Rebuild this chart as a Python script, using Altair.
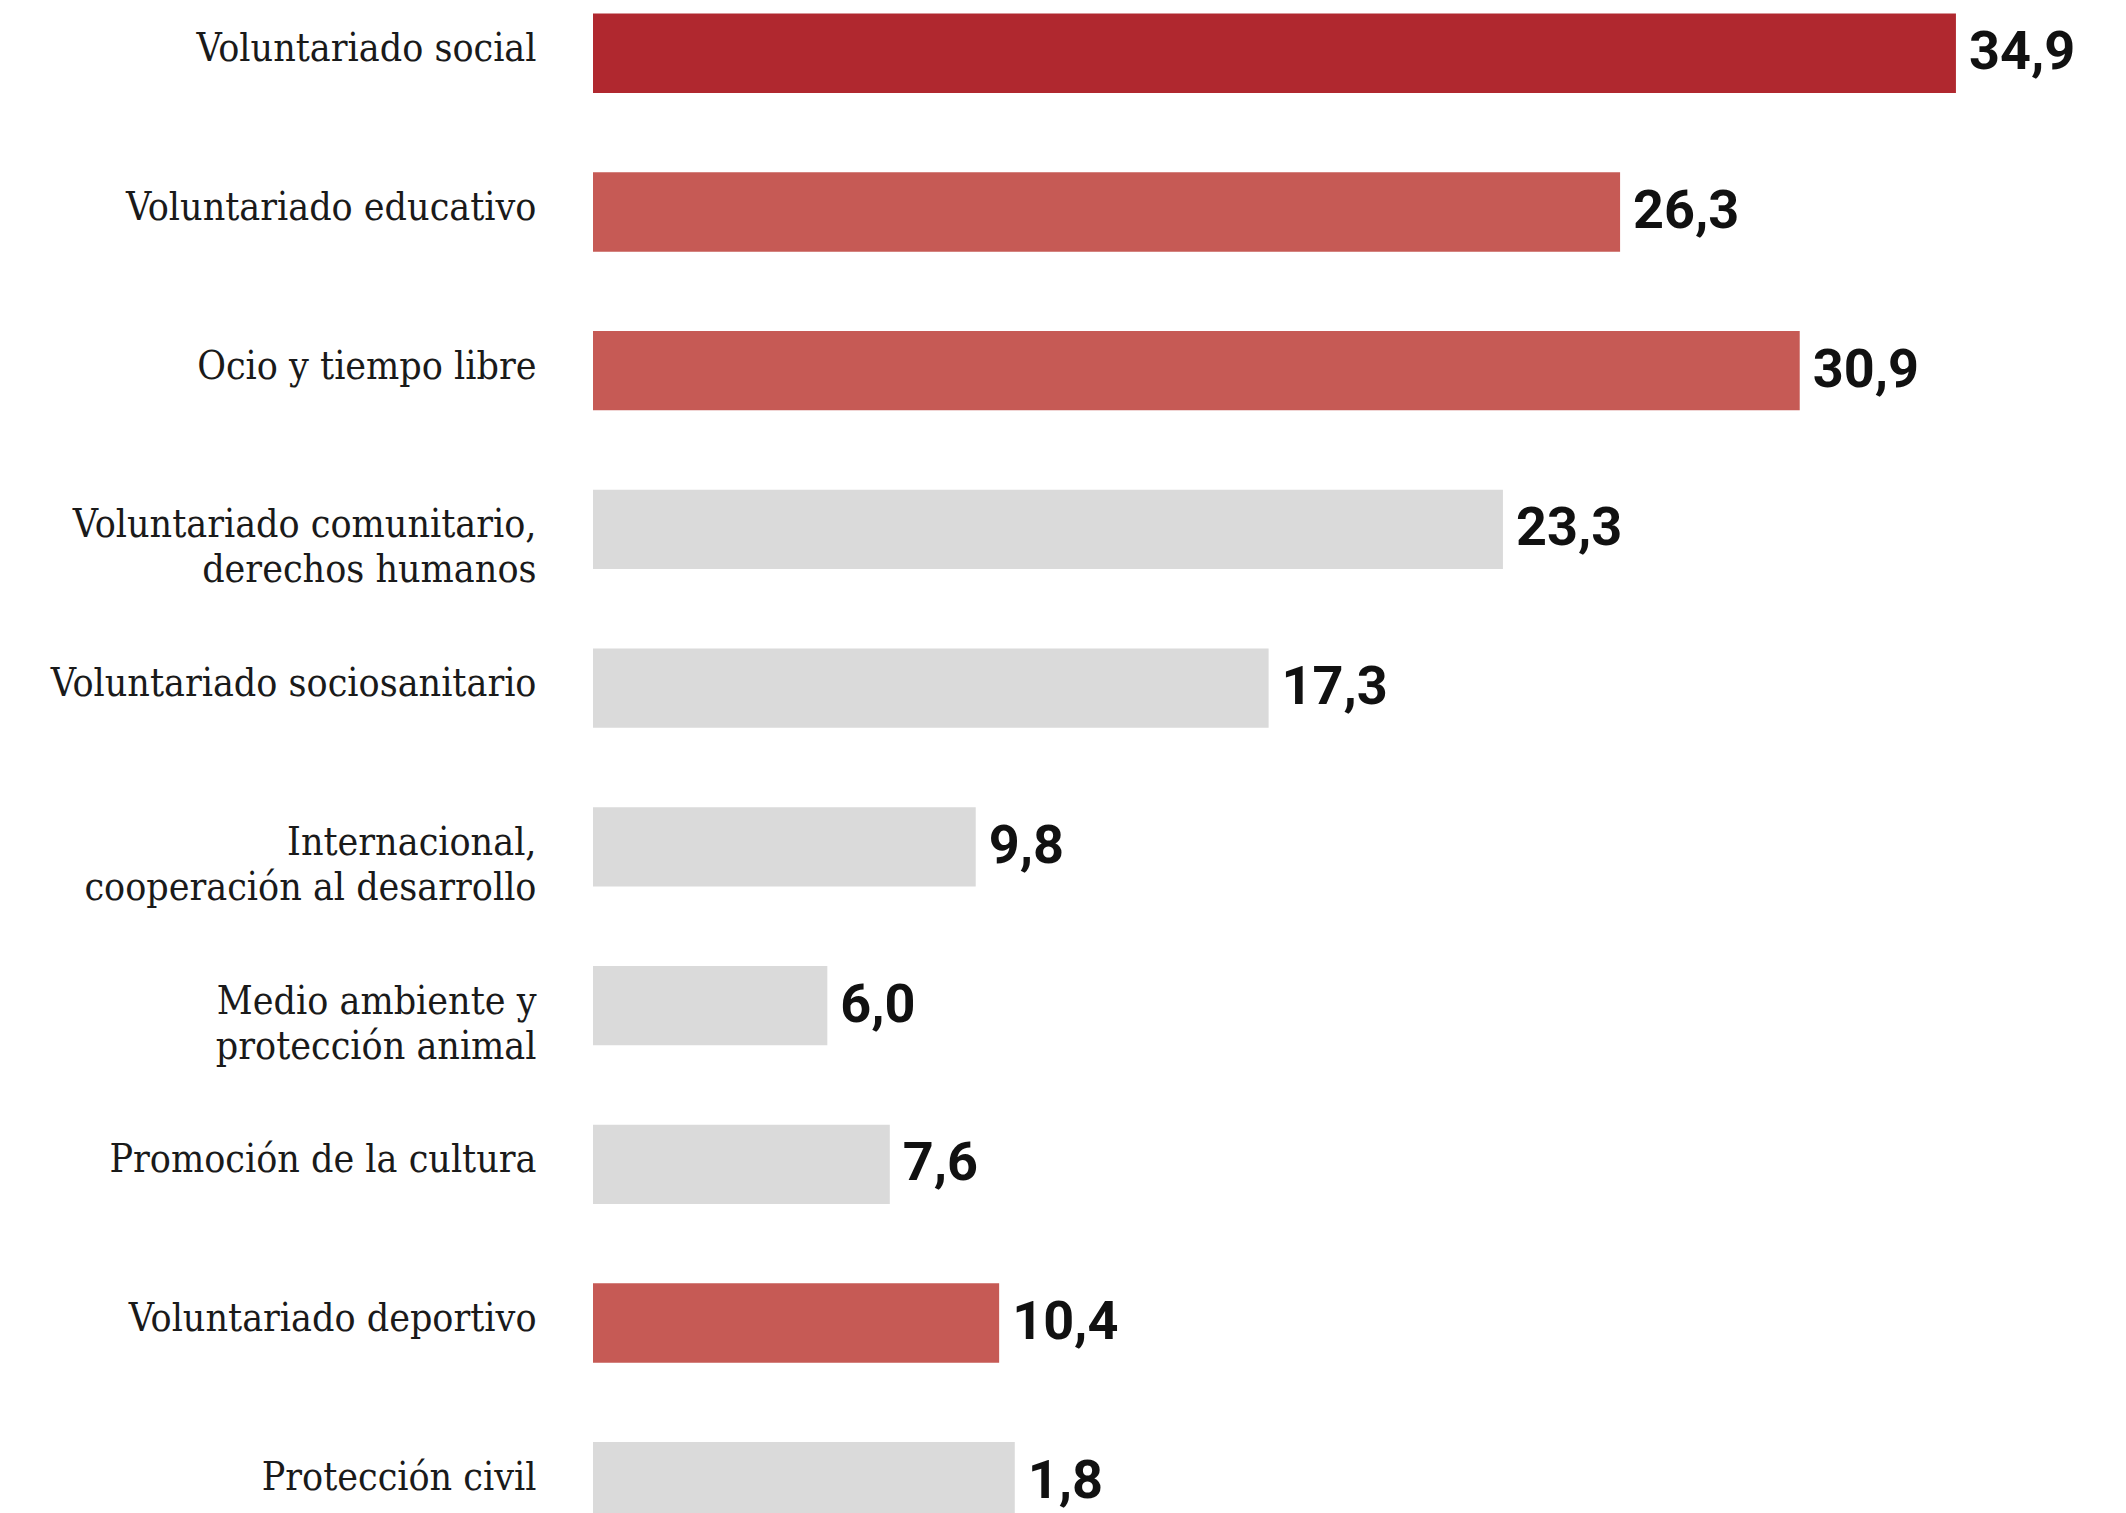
import altair as alt
import pandas as pd

categories = [
    "Voluntariado social",
    "Voluntariado educativo",
    "Ocio y tiempo libre",
    "Voluntariado comunitario,|derechos humanos",
    "Voluntariado sociosanitario",
    "Internacional,|cooperación al desarrollo",
    "Medio ambiente y|protección animal",
    "Promoción de la cultura",
    "Voluntariado deportivo",
    "Protección civil",
]
# bar lengths as drawn in the picture
bar_values = [34.9, 26.3, 30.9, 23.3, 17.3, 9.8, 6.0, 7.6, 10.4, 10.8]
# printed value labels
value_labels = ["34,9", "26,3", "30,9", "23,3", "17,3", "9,8", "6,0", "7,6", "10,4", "1,8"]
groups = ["top", "high", "high", "other", "other", "other", "other", "other", "high", "other"]

df = pd.DataFrame({
    "cat": categories,
    "value": bar_values,
    "label": value_labels,
    "group": groups,
})

y_enc = alt.Y(
    "cat:N",
    sort=None,
    scale=alt.Scale(paddingInner=0.5, paddingOuter=0.035),
    axis=alt.Axis(
        title=None,
        domain=False,
        ticks=False,
        grid=False,
        labelPadding=57,
        labelFontSize=39,
        labelFont="DejaVu Serif Condensed, DejaVu Serif, serif",
        labelColor="#1a1a1a",
        labelLineHeight=45,
        labelOffset=-4,
        labelExpr="split(datum.value, '|')",
        labelLimit=800,
    ),
)

x_enc = alt.X(
    "value:Q",
    scale=alt.Scale(domain=[0, 38], nice=False),
    axis=None,
)

bars = alt.Chart(df).mark_bar().encode(
    x=x_enc,
    y=y_enc,
    color=alt.Color(
        "group:N",
        scale=alt.Scale(domain=["top", "high", "other"], range=["#B0282F", "#C65A55", "#DADADA"]),
        legend=None,
    ),
)

texts = alt.Chart(df).mark_text(
    align="left",
    baseline="middle",
    dx=13,
    font="Roboto",
    fontSize=54,
    fontWeight="bold",
    color="#111111",
).encode(
    x=x_enc,
    y=alt.Y("cat:N", sort=None),
    text="label:N",
)

chart = (
    alt.layer(bars, texts)
    .properties(
        width=1484,
        height=1519,
        background="white",
        autosize=alt.AutoSizeParams(type="none"),
        padding={"left": 585, "top": 0, "right": 20, "bottom": 0},
    )
    .configure_view(strokeWidth=0, stroke="transparent")
)

chart.save("out.html", embed_options={"renderer": "svg", "actions": False})
